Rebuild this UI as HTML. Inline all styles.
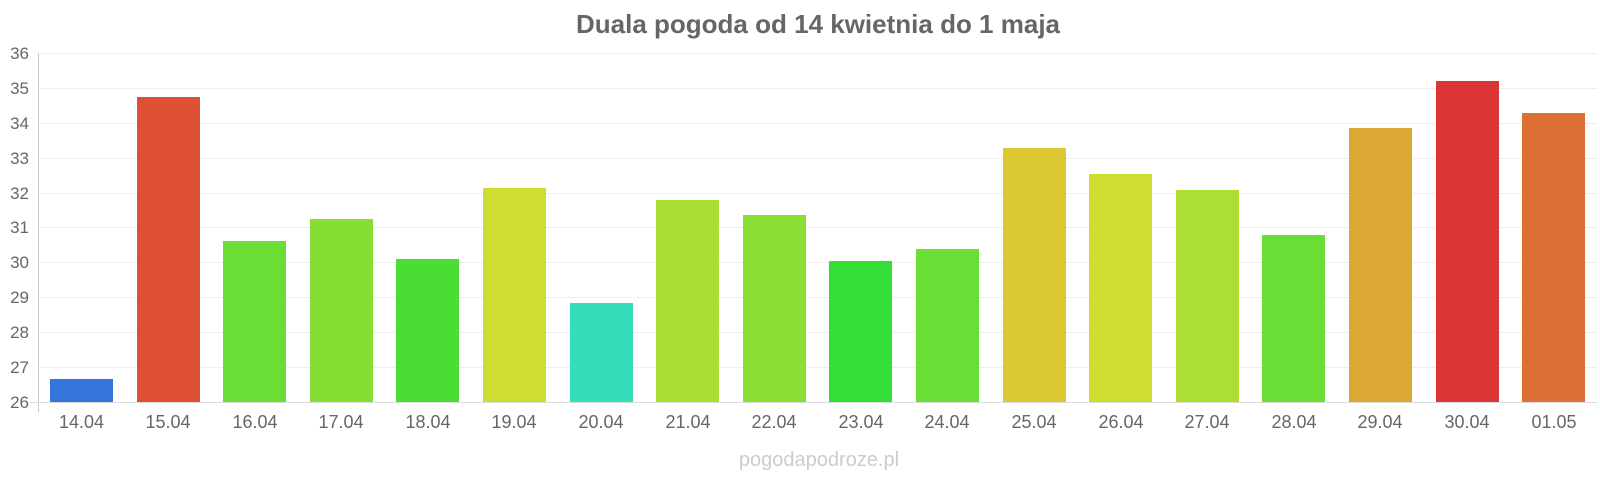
<!DOCTYPE html>
<html><head><meta charset="utf-8"><style>
html,body{margin:0;padding:0;background:#fff;}
body{width:1600px;height:480px;overflow:hidden;font-family:"Liberation Sans",sans-serif;}
</style></head><body>
<svg width="1600" height="480" xmlns="http://www.w3.org/2000/svg" font-family="Liberation Sans, sans-serif">
<text x="818" y="33" text-anchor="middle" font-size="26" font-weight="bold" fill="#666">Duala pogoda od 14 kwietnia do 1 maja</text>
<g stroke="#eee" stroke-width="1">
<line x1="38" x2="1597" y1="53.5" y2="53.5"/><line x1="38" x2="1597" y1="88.5" y2="88.5"/><line x1="38" x2="1597" y1="123.5" y2="123.5"/><line x1="38" x2="1597" y1="158.5" y2="158.5"/><line x1="38" x2="1597" y1="193.5" y2="193.5"/><line x1="38" x2="1597" y1="227.5" y2="227.5"/><line x1="38" x2="1597" y1="262.5" y2="262.5"/><line x1="38" x2="1597" y1="297.5" y2="297.5"/><line x1="38" x2="1597" y1="332.5" y2="332.5"/><line x1="38" x2="1597" y1="367.5" y2="367.5"/>
</g>
<line x1="38.5" x2="38.5" y1="53" y2="412" stroke="#ccc"/>
<line x1="30" x2="1597" y1="402.5" y2="402.5" stroke="#ddd"/>
<g font-size="17" fill="#666" text-anchor="end">
<text x="29" y="59">36</text><text x="29" y="94">35</text><text x="29" y="129">34</text><text x="29" y="164">33</text><text x="29" y="199">32</text><text x="29" y="233">31</text><text x="29" y="268">30</text><text x="29" y="303">29</text><text x="29" y="338">28</text><text x="29" y="373">27</text><text x="29" y="408">26</text>
</g>
<g>
<rect x="50" y="379" width="63" height="23" fill="#3375db"/>
<rect x="137" y="97" width="63" height="305" fill="#de5035"/>
<rect x="223" y="241" width="63" height="161" fill="#6ade35"/>
<rect x="310" y="219" width="63" height="183" fill="#86de35"/>
<rect x="396" y="259" width="63" height="143" fill="#4ade35"/>
<rect x="483" y="188" width="63" height="214" fill="#cfdd33"/>
<rect x="570" y="303" width="63" height="99" fill="#35deb8"/>
<rect x="656" y="200" width="63" height="202" fill="#a9de35"/>
<rect x="743" y="215" width="63" height="187" fill="#8bde35"/>
<rect x="829" y="261" width="63" height="141" fill="#33de37"/>
<rect x="916" y="249" width="63" height="153" fill="#6bde35"/>
<rect x="1003" y="148" width="63" height="254" fill="#dbc833"/>
<rect x="1089" y="174" width="63" height="228" fill="#cfdd33"/>
<rect x="1176" y="190" width="63" height="212" fill="#acde35"/>
<rect x="1262" y="235" width="63" height="167" fill="#6ade35"/>
<rect x="1349" y="128" width="63" height="274" fill="#daa833"/>
<rect x="1436" y="81" width="63" height="321" fill="#dc3535"/>
<rect x="1522" y="113" width="63" height="289" fill="#de7035"/>
</g>
<g font-size="18" fill="#666" text-anchor="middle">
<text x="81.5" y="428">14.04</text><text x="168" y="428">15.04</text><text x="255" y="428">16.04</text><text x="341" y="428">17.04</text><text x="428" y="428">18.04</text><text x="514" y="428">19.04</text><text x="601" y="428">20.04</text><text x="688" y="428">21.04</text><text x="774" y="428">22.04</text><text x="861" y="428">23.04</text><text x="947" y="428">24.04</text><text x="1034" y="428">25.04</text><text x="1121" y="428">26.04</text><text x="1207" y="428">27.04</text><text x="1294" y="428">28.04</text><text x="1380" y="428">29.04</text><text x="1467" y="428">30.04</text><text x="1554" y="428">01.05</text>
</g>
<text x="819" y="466" text-anchor="middle" font-size="20" fill="#ccc">pogodapodroze.pl</text>
</svg>
</body></html>
